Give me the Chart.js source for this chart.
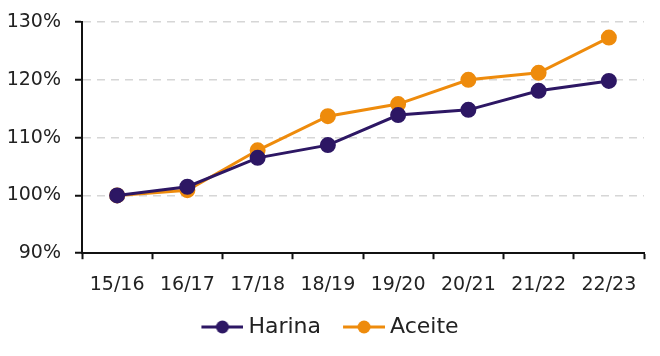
<!DOCTYPE html>
<html>
<head>
<meta charset="utf-8">
<script src="https://cdn.jsdelivr.net/npm/chart.js@4/dist/chart.umd.min.js"></script>
<style>
  html, body { margin: 0; padding: 0; background: #ffffff; }
  #wrap { width: 660px; height: 356px; }
</style>
</head>
<body>
<div id="wrap"><canvas id="c" width="660" height="356"></canvas></div>
<script>
const categories = ["15/16", "16/17", "17/18", "18/19", "19/20", "20/21", "21/22", "22/23"];
const harina = [100, 101.5, 106.5, 108.7, 113.9, 114.8, 118.1, 119.8];
const aceite = [100, 100.9, 107.8, 113.7, 115.8, 120.0, 121.2, 127.3];
const seriesNames = ["Harina", "Aceite"];
const yTicks = [90, 100, 110, 120, 130];

const colHarina = "#2d1764";
const colAceite = "#ee8b0c";
const FONT = "DejaVu Sans";

// legend marker: line with a dot, with a transparent left margin so it sits close to its text
function marker(color) {
  const L = 22, M = 42;
  const cv = document.createElement("canvas");
  cv.width = L + M; cv.height = 14;
  const g = cv.getContext("2d");
  g.strokeStyle = color; g.lineWidth = 3;
  g.beginPath(); g.moveTo(L, 7); g.lineTo(L + M, 7); g.stroke();
  g.fillStyle = color;
  g.beginPath(); g.arc(L + M / 2, 7, 6.5, 0, Math.PI * 2); g.fill();
  return cv;
}

const markers = [marker(colHarina), marker(colAceite)];

new Chart(document.getElementById("c"), {
  type: "line",
  data: {
    labels: categories,
    datasets: [
      { label: seriesNames[0], data: harina, borderColor: colHarina, backgroundColor: colHarina,
        borderWidth: 3, pointRadius: 6.5, pointHoverRadius: 6.5, tension: 0 },
      { label: seriesNames[1], data: aceite, borderColor: colAceite, backgroundColor: colAceite,
        borderWidth: 3, pointRadius: 6.5, pointHoverRadius: 6.5, tension: 0 }
    ]
  },
  options: {
    responsive: false,
    animation: false,
    devicePixelRatio: 1,
    layout: { autoPadding: false, padding: { left: 0, right: 16, top: 0, bottom: 8 } },
    plugins: {
      tooltip: { enabled: false },
      legend: {
        position: "bottom",
        labels: {
          usePointStyle: true,
          pointStyleWidth: 52,
          padding: 6,
          color: "#222",
          font: { family: FONT, size: 22 },
          generateLabels: (chart) => chart.data.datasets.map((ds, i) => ({
            text: ds.label,
            pointStyle: markers[i],
            fillStyle: ds.borderColor,
            strokeStyle: ds.borderColor,
            lineWidth: 0,
            fontColor: "#222",
            datasetIndex: i,
            hidden: false
          }))
        }
      }
    },
    scales: {
      x: {
        offset: true,
        grid: { offset: true, drawOnChartArea: false, drawTicks: true, tickLength: 6,
                tickColor: "#111", tickWidth: 2 },
        border: { color: "#111", width: 2 },
        ticks: { color: "#222", font: { family: FONT, size: 19 }, padding: 14, maxRotation: 0 }
      },
      y: {
        min: 90, max: 130,
        afterBuildTicks: (s) => { s.ticks = yTicks.map(v => ({ value: v })); },
        afterFit: (s) => { s.width = 82; s.paddingTop = 22; s.paddingBottom = 12; },
        grid: { color: "#d6d6d6", lineWidth: 1.5, tickColor: "#111", tickWidth: 2, tickLength: 7 },
        border: { color: "#111", width: 2, dash: [8, 6] },
        ticks: { color: "#222", font: { family: FONT, size: 19 }, padding: 14,
                 callback: (v) => v + "%" }
      }
    }
  }
});
</script>
</body>
</html>
